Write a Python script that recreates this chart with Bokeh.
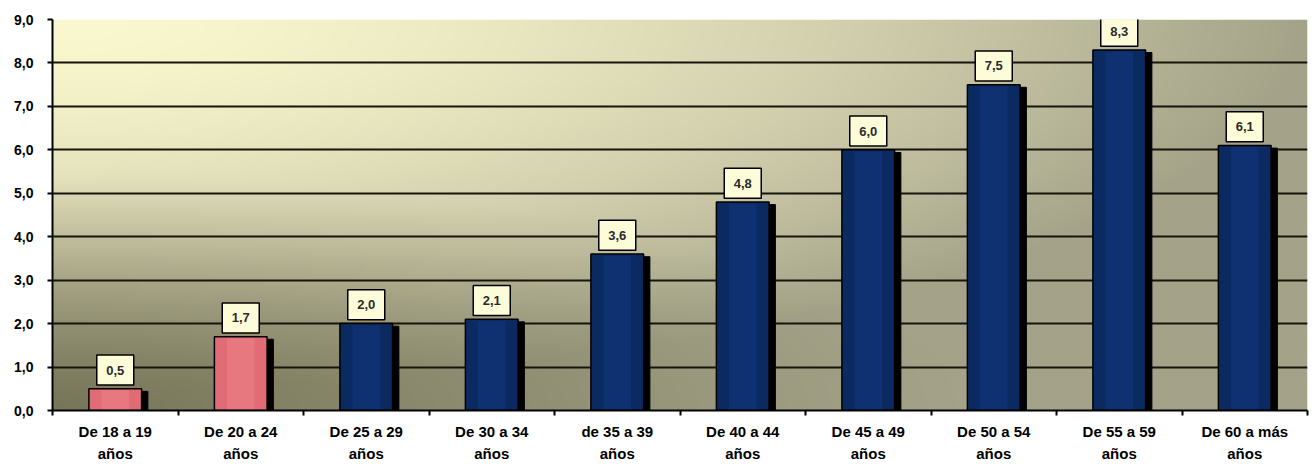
import numpy as np
from bokeh.plotting import figure
from bokeh.models import FixedTicker, ColumnDataSource, Range1d
from bokeh.core.properties import value
from bokeh.transform import dodge
from bokeh.embed import file_html
from bokeh.resources import INLINE

# ---- data ----
categories = ["De 18 a 19\naños", "De 20 a 24\naños", "De 25 a 29\naños",
              "De 30 a 34\naños", "de 35 a 39\naños", "De 40 a 44\naños",
              "De 45 a 49\naños", "De 50 a 54\naños", "De 55 a 59\naños",
              "De 60 a más\naños"]
values = [0.5, 1.7, 2.0, 2.1, 3.6, 4.8, 6.0, 7.5, 8.3, 6.1]
value_labels = ["0,5", "1,7", "2,0", "2,1", "3,6", "4,8", "6,0", "7,5", "8,3", "6,1"]
bar_colors = ["#e26c76", "#e26c76"] + ["#0c2a62"] * 8
highlight_colors = ["#f08e96", "#f08e96"] + ["#17408e"] * 8
y_ticks = [0, 1, 2, 3, 4, 5, 6, 7, 8, 9]
y_tick_labels = ["0,0", "1,0", "2,0", "3,0", "4,0", "5,0", "6,0", "7,0", "8,0", "9,0"]

n = len(categories)
xpos = [i + 0.5 for i in range(n)]
PX_PER_UNIT = (464 - 19 - 49) / 9.0
box_gap_units = (4 + 15) / PX_PER_UNIT  # label box sits just above each bar
src = ColumnDataSource(dict(
    x=xpos, top=values, label=value_labels, color=bar_colors, hl=highlight_colors,
    shadow_top=[v - 0.06 for v in values],
    hl_top=[v - 0.04 for v in values],
    box_y=[v + box_gap_units for v in values],
))

p = figure(width=1312, height=464, x_range=Range1d(0, n), y_range=Range1d(0, 9),
           output_backend="svg", toolbar_location=None,
           min_border_left=52, min_border_right=5, min_border_top=19, min_border_bottom=49)
p.background_fill_color = "white"
p.border_fill_color = "white"
p.outline_line_color = None

# ---- background gradient (style only) ----
H, W = 200, 600
yy, xx = np.mgrid[0:H, 0:W]
u = xx / (W - 1)
w = 1.0 - yy / (H - 1)          # 0 top, 1 bottom (row 0 is bottom)
t = np.clip(np.sqrt((u / 1.0) ** 2 + (w / 0.95) ** 2), 0, 1) ** 1.6
c0 = np.array([250, 248, 206], float)
c1 = np.array([164, 162, 136], float)
col = c0[None, None, :] * (1 - t[..., None]) + c1[None, None, :] * t[..., None]
d = np.sqrt((u / 1.2) ** 2 + (1 - w) ** 2)
g = np.clip(1 - d / 0.6, 0, 1) ** 1.1
cd = np.array([120, 118, 88], float)
col = col * (1 - g[..., None]) + cd[None, None, :] * g[..., None]
img = np.empty((H, W), dtype=np.uint32)
view = img.view(dtype=np.uint8).reshape((H, W, 4))
view[..., 0] = col[..., 0].astype(np.uint8)
view[..., 1] = col[..., 1].astype(np.uint8)
view[..., 2] = col[..., 2].astype(np.uint8)
view[..., 3] = 255
p.image_rgba(image=[img], x=0, y=0, dw=n, dh=9, level="image")

# ---- grid ----
p.xgrid.grid_line_color = None
p.ygrid.ticker = FixedTicker(ticks=y_ticks)
p.ygrid.grid_line_color = "#15150c"
p.ygrid.grid_line_width = 2
p.ygrid.level = "underlay"

# ---- bars ----
p.vbar(x=dodge("x", 0.05, range=p.x_range), top="shadow_top", bottom=0, width=0.42,
       source=src, fill_color="black", line_color="black")
p.vbar(x="x", top="top", bottom=0, width=0.42, source=src,
       fill_color="color", line_color="black", line_width=1.5)
p.vbar(x="x", top="hl_top", bottom=0.02, width=0.22, source=src,
       fill_color="hl", fill_alpha=0.35, line_color=None)

# ---- value labels (box + text) ----
p.rect(x="x", y="box_y", width=37, height=30, width_units="screen", height_units="screen",
       source=src, fill_color="#fdfcd9", line_color="black", line_width=1.5)
p.text(x="x", y="box_y", text="label", source=src, text_align="center",
       text_baseline="middle", text_font=value("Liberation Sans"),
       text_font_style="bold", text_font_size="13px", text_color="#2a2a2a")

# ---- axes ----
p.yaxis.ticker = FixedTicker(ticks=y_ticks)
p.yaxis.major_label_overrides = {k: s for k, s in zip(y_ticks, y_tick_labels)}
p.yaxis.minor_tick_line_color = None
p.yaxis.major_tick_in = 0
p.yaxis.major_tick_out = 5
p.yaxis.major_label_standoff = 14
p.yaxis.axis_line_width = 2
p.yaxis.axis_line_color = "black"
p.yaxis.major_tick_line_width = 2
p.yaxis.major_label_text_font = "Liberation Sans"
p.yaxis.major_label_text_font_style = "bold"
p.yaxis.major_label_text_font_size = "14px"
p.yaxis.major_label_text_color = "black"

p.xaxis.ticker = FixedTicker(ticks=xpos, minor_ticks=list(range(n + 1)))
p.xaxis.major_label_overrides = {x: c for x, c in zip(xpos, categories)}
p.xaxis.major_tick_in = 0
p.xaxis.major_tick_out = 0
p.xaxis.minor_tick_in = 0
p.xaxis.minor_tick_out = 5
p.xaxis.minor_tick_line_width = 2
p.xaxis.minor_tick_line_color = "black"
p.xaxis.axis_line_width = 2
p.xaxis.axis_line_color = "black"
p.xaxis.major_label_standoff = 7
p.xaxis.major_label_text_font = "Liberation Sans"
p.xaxis.major_label_text_font_style = "bold"
p.xaxis.major_label_text_font_size = "15px"
p.xaxis.major_label_text_color = "black"
p.xaxis.major_label_text_line_height = 1.3

open("out.html", "w").write(file_html(p, INLINE))
